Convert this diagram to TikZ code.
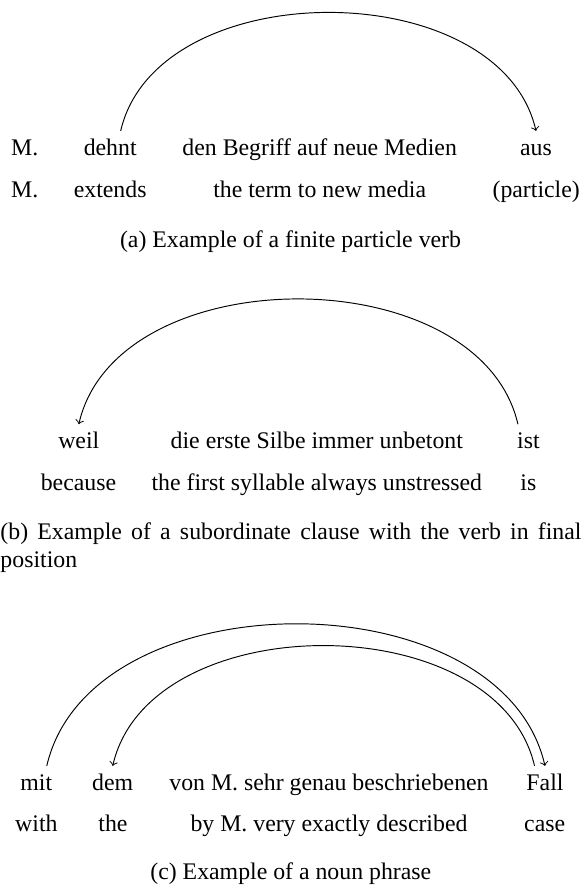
\documentclass[tikz,border=0pt]{standalone}
\usepackage{fontspec}
\setmainfont{Liberation Serif}
\begin{document}
\begin{tikzpicture}[x=0.42017pt,y=0.42017pt,
  word/.style={anchor=base, inner sep=3.33pt, text height=6.6pt, text depth=2pt},
  capnode/.style={anchor=base, inner sep=0pt},
  arcline/.style={->, line width=0.4pt},
  rarc/.style={arcline, out=77, in=103},
  larc/.style={arcline, out=103, in=77}]
\useasboundingbox (0,0) rectangle (581,-886);
% (a)
\node[word] (a1) at (24.7,-155) {M.};
\node[word] (dehnt) at (110.2,-155) {dehnt};
\node[word] (a3) at (319.7,-155) {den Begriff auf neue Medien};
\node[word] (aus) at (536,-155) {aus};
\node[word] (a5) at (24.7,-197) {M.};
\node[word] (a6) at (110.2,-197) {extends};
\node[word] (a7) at (319.7,-197) {the term to new media};
\node[word] (a8) at (536.2,-197) {(particle)};
\node[capnode] (capa) at (290.5,-247) {(a) Example of a finite particle verb};
\draw[rarc] ([xshift=4.4pt]dehnt.north) to (aus.north);
% (b)
\node[word] (weil) at (78.8,-448.3) {weil};
\node[word] (b2) at (316.8,-448.3) {die erste Silbe immer unbetont};
\node[word] (ist) at (528.4,-448.3) {ist};
\node[word] (b4) at (78.5,-490) {because};
\node[word] (b5) at (316.8,-490) {the first syllable always unstressed};
\node[word] (b6) at (528.4,-490) {is};
\node[capnode, anchor=base west, text width=244.12pt, align=justify] (capb) at (0,-539.3)
  {(b) Example of a subordinate clause with the verb in final \mbox{position}};
\draw[larc] ([xshift=-4.4pt]ist.north) to (weil.north);
% (c)
\node[word] (mit) at (36.3,-790) {mit};
\node[word] (dem) at (112.7,-790) {dem};
\node[word] (c3) at (329,-790) {von M. sehr genau beschriebenen};
\node[word] (fall) at (545,-790) {Fall};
\node[word] (c5) at (36.4,-831) {with};
\node[word] (c6) at (113,-831) {the};
\node[word] (c7) at (329,-831) {by M. very exactly described};
\node[word] (c8) at (544.7,-831) {case};
\node[capnode] (capc) at (290.8,-879) {(c) Example of a noun phrase};
\draw[rarc] ([xshift=4.4pt]mit.north) to (fall.north);
\draw[larc] ([xshift=-4.4pt]fall.north) to (dem.north);
\end{tikzpicture}
\end{document}
